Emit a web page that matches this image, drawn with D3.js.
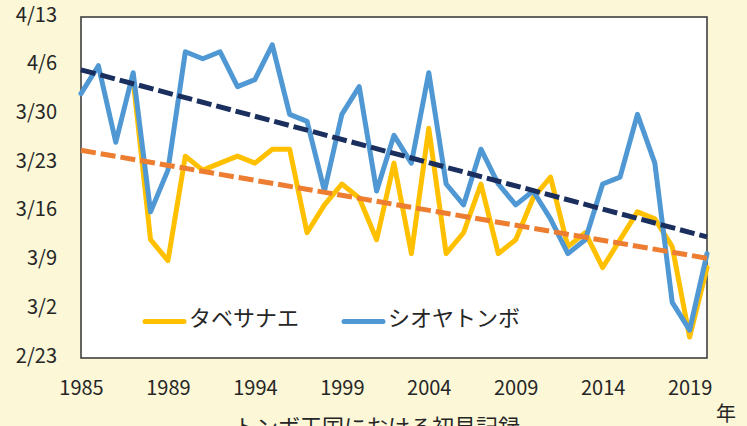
<!DOCTYPE html>
<html>
<head>
<meta charset="utf-8">
<script src="https://cdn.jsdelivr.net/npm/d3@7"></script>
<style>
  html, body { margin: 0; padding: 0; background: #FBF7D7; }
  svg { display: block; }
  text { font-family: "Noto Sans CJK JP", "Noto Sans", sans-serif; fill: #262626; }
</style>
</head>
<body>
<svg id="chart" width="747" height="426"></svg>
<script>
// ---- data ----
const seriesNames = ["タベサナエ", "シオヤトンボ"];
const tabesanae = [null, null, null, "4/4", "3/12", "3/9", "3/24", "3/22", "3/23", "3/24",
  "3/23", "3/25", "3/25", "3/13", "3/17", "3/20", "3/18", "3/12", "3/23", "3/10",
  "3/28", "3/10", "3/13", "3/20", "3/10", "3/12", "3/18", "3/21", "3/11", "3/13",
  "3/8", "3/12", "3/16", "3/15", "3/11", "2/26", "3/8"];
const shioyatonbo = ["4/2", "4/6", "3/26", "4/5", "3/16", "3/22", "4/8", "4/7", "4/8", "4/3",
  "4/4", "4/9", "3/30", "3/29", "3/19", "3/30", "4/3", "3/19", "3/27", "3/23",
  "4/5", "3/20", "3/17", "3/25", "3/20", "3/17", "3/19", "3/15", "3/10", "3/12",
  "3/20", "3/21", "3/30", "3/23", "3/3", "2/27", "3/10"];
const xTickIndex = [0, 5, 10, 15, 20, 25, 30, 35];
const xTickLabels = ["1985", "1989", "1994", "1999", "2004", "2009", "2014", "2019"];
const yTickLabels = ["2/23", "3/2", "3/9", "3/16", "3/23", "3/30", "4/6", "4/13"];
const xAxisTitle = "年";
const chartTitle = "トンボ王国における初見記録";

// ---- setup ----
const parse = d3.timeParse("%m/%d");
const svg = d3.select("#chart");
const plot = { left: 81, top: 17, right: 707, bottom: 358 };

const n = shioyatonbo.length;
const x = d3.scaleLinear().domain([0, n - 1]).range([plot.left, plot.right]);
const y = d3.scaleTime()
  .domain([parse(yTickLabels[0]), parse(yTickLabels[yTickLabels.length - 1])])
  .range([plot.bottom, plot.top]);

// background + plot area
svg.append("rect").attr("width", 747).attr("height", 426).attr("fill", "#FBF7D7");
svg.append("rect")
  .attr("x", plot.left).attr("y", plot.top)
  .attr("width", plot.right - plot.left).attr("height", plot.bottom - plot.top)
  .attr("fill", "#ffffff").attr("stroke", "#3F3F3F").attr("stroke-width", 1.6);

// axes (labels only)
const yAxis = d3.axisLeft(y)
  .tickValues(yTickLabels.map(parse))
  .tickFormat((d, i) => yTickLabels[i])
  .tickSize(0).tickPadding(0);
const gy = svg.append("g").attr("transform", `translate(57,0)`).call(yAxis);
gy.select(".domain").remove();
gy.selectAll("text").attr("font-size", 20).attr("dy", null)
  .attr("dominant-baseline", "auto").attr("transform", "translate(0,4)")
  .style("font-family", '"Noto Sans CJK JP", sans-serif').attr("fill", "#262626");

const xAxis = d3.axisBottom(x)
  .tickValues(xTickIndex)
  .tickFormat((d, i) => xTickLabels[i])
  .tickSize(0).tickPadding(0);
const gx = svg.append("g").attr("transform", `translate(0,0)`).call(xAxis);
gx.select(".domain").remove();
gx.selectAll("text").attr("font-size", 20).attr("dy", null).attr("y", 395)
  .style("font-family", '"Noto Sans CJK JP", sans-serif').attr("fill", "#262626");

// series
function toPts(arr) {
  return arr.map((v, i) => ({ i, v: v == null ? null : parse(v) }));
}
const line = d3.line()
  .defined(d => d.v != null)
  .x(d => x(d.i)).y(d => y(d.v));

const colors = { orange: "#FFC000", blue: "#4F98D3", orangeTrend: "#ED7D31", navyTrend: "#1B2F5E" };

svg.append("path").datum(toPts(tabesanae)).attr("d", line)
  .attr("fill", "none").attr("stroke", colors.orange).attr("stroke-width", 5)
  .attr("stroke-linejoin", "round").attr("stroke-linecap", "round");
svg.append("path").datum(toPts(shioyatonbo)).attr("d", line)
  .attr("fill", "none").attr("stroke", colors.blue).attr("stroke-width", 5)
  .attr("stroke-linejoin", "round").attr("stroke-linecap", "round");

// linear trend (least squares over index) computed from the data
function trend(arr) {
  const pts = arr.map((v, i) => v == null ? null : [i, y.invert ? (parse(v) - parse(yTickLabels[0])) / 86400000 : 0])
    .filter(p => p);
  const mx = d3.mean(pts, p => p[0]), my = d3.mean(pts, p => p[1]);
  const b = d3.sum(pts, p => (p[0] - mx) * (p[1] - my)) / d3.sum(pts, p => (p[0] - mx) ** 2);
  const a = my - b * mx;
  const base = parse(yTickLabels[0]).getTime();
  return [0, n - 1].map(i => ({ i, v: new Date(base + (a + b * i) * 86400000) }));
}
const tline = d3.line().x(d => x(d.i)).y(d => y(d.v));
svg.append("path").datum(trend(tabesanae)).attr("d", tline)
  .attr("fill", "none").attr("stroke", colors.orangeTrend).attr("stroke-width", 5)
  .attr("stroke-dasharray", "15,5");
svg.append("path").datum(trend(shioyatonbo)).attr("d", tline)
  .attr("fill", "none").attr("stroke", colors.navyTrend).attr("stroke-width", 5)
  .attr("stroke-dasharray", "15,5");

// legend
const legend = [
  { name: seriesNames[0], color: colors.orange, x0: 145 },
  { name: seriesNames[1], color: colors.blue, x0: 344 }
];
legend.forEach(l => {
  svg.append("line").attr("x1", l.x0).attr("x2", l.x0 + 39)
    .attr("y1", 321.5).attr("y2", 321.5)
    .attr("stroke", l.color).attr("stroke-width", 5).attr("stroke-linecap", "round");
  svg.append("text").attr("x", l.x0 + 44).attr("y", 326).attr("font-size", 22)
    .text(l.name);
});

// titles
svg.append("text").attr("x", 726).attr("y", 421).attr("text-anchor", "middle")
  .attr("font-size", 20).text(xAxisTitle);
svg.append("text").attr("x", 377).attr("y", 435).attr("text-anchor", "middle")
  .attr("font-size", 22).text(chartTitle);
</script>
</body>
</html>
